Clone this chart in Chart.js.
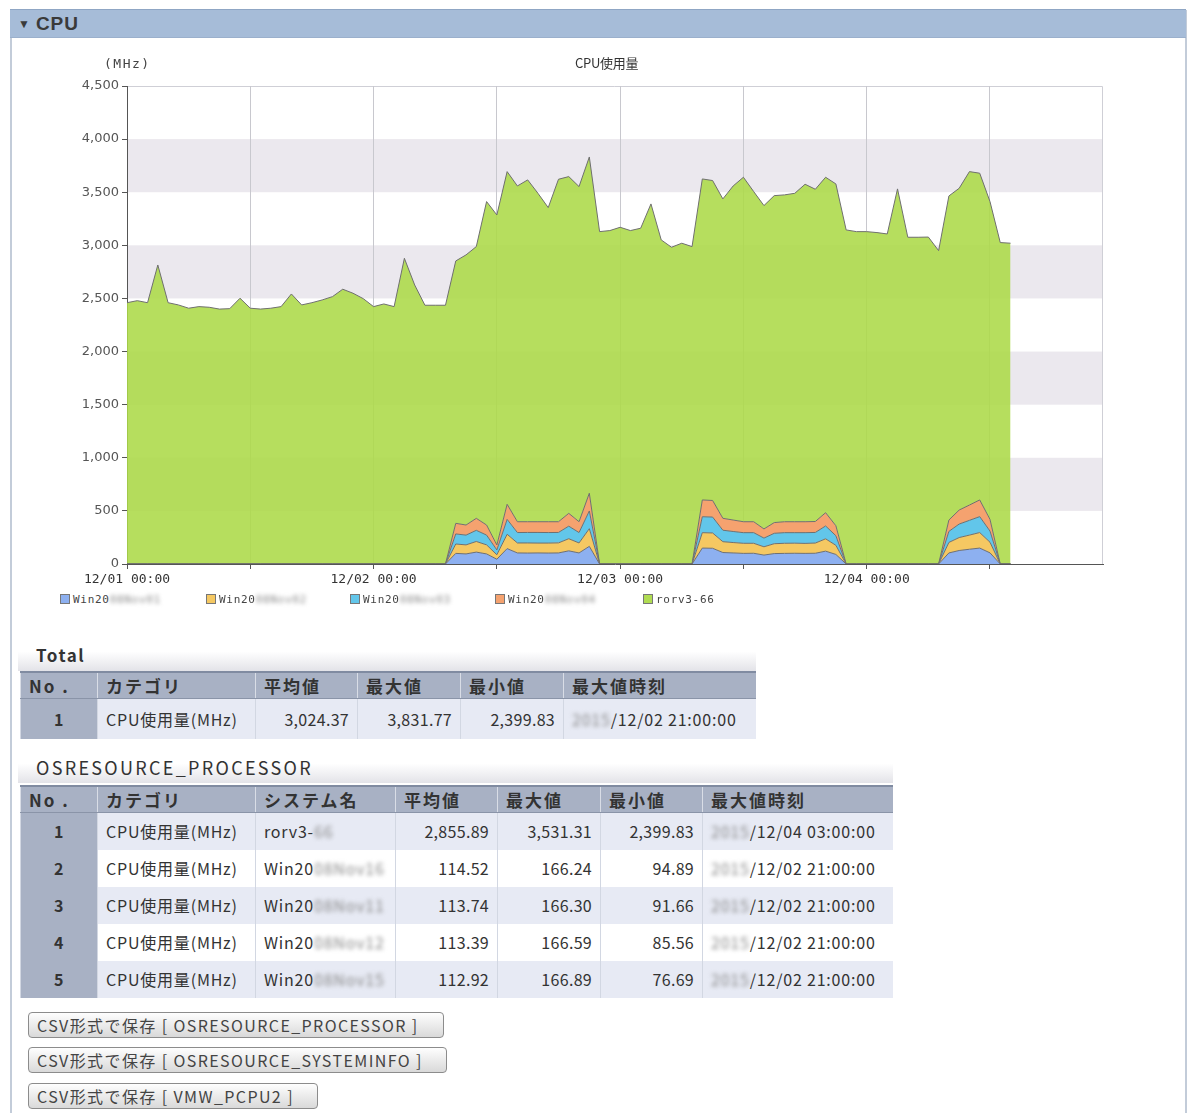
<!DOCTYPE html>
<html lang="ja">
<head>
<meta charset="utf-8">
<script src="https://cdn.jsdelivr.net/npm/chart.js@4.4.1/dist/chart.umd.min.js"></script>
<style>
  body { margin: 0; width: 1192px; height: 1113px; overflow: hidden; position: relative; background: #fff;
         font-family: "Noto Sans CJK JP", "Noto Sans", sans-serif; color: #333; }
  .frame { position: absolute; left: 10px; top: 10px; width: 1173px; height: 1110px;
           border-left: 2px solid #c3ccd9; border-right: 2px solid #c3ccd9; }
  .head { position: absolute; left: 10px; top: 9px; width: 1168px; height: 27px; padding-left: 8px;
          background: #a6bcd8; border-top: 1px solid #8fa6c4; border-bottom: 1px solid #9bb0cc;
          font: bold 19px "Liberation Sans", sans-serif; line-height: 27px; color: #3a3a3a; letter-spacing: 1px; }
  .head span { font-size: 12px; vertical-align: 2px; margin-right: 5px; }
  #cpuChart { position: absolute; left: 0; top: 0; }
  .ctitle { position: absolute; left: 575px; top: 53px; font-size: 13px; color: #333; letter-spacing: -0.3px; }
  .unit { position: absolute; left: 104px; top: 56px; font: 13px "DejaVu Sans Mono", monospace; color: #444; letter-spacing: 1.5px; }
  .legend { position: absolute; left: 60px; top: 593px; font: 11px "DejaVu Sans Mono", monospace; color: #444; letter-spacing: 0.7px; }
  .legend div { position: absolute; top: 0; white-space: nowrap; }
  .legend i { display: inline-block; width: 8px; height: 8px; border: 1px solid #777; margin-right: 3px; vertical-align: -1px; }
  .blur { filter: blur(2.2px); color: #8a8a8a; }
  .cap { position: absolute; left: 18px; height: 30px; padding-left: 18px; font-size: 17px; font-weight: bold; line-height: 28px;
         letter-spacing: 1.5px; background: linear-gradient(to bottom, #fff 35%, #e3e3e8); }
  .tbl { position: absolute; left: 20px; border-collapse: collapse; table-layout: fixed; font-size: 16px; color: #333; letter-spacing: 0.8px; }
  .tbl th { background: #a8b1c4; height: 25px; text-align: left; padding: 0 8px; font-weight: bold; font-size: 17px; letter-spacing: 2px;
            border-left: 1px solid #d9dde6; border-top: 2px solid #808ba1; border-bottom: 1px solid #8a94a8; }
  .tbl td { padding: 0 8px; border-left: 1px solid #d2d7e2; white-space: nowrap; overflow: hidden; }
  .tbl td.no { background: #a8b1c4; text-align: center; font-weight: bold; }
  .tbl td.num { text-align: right; letter-spacing: 0.3px; }
  .tbl tr.a td { background: #e7eaf4; }
  .tbl tr.b td { background: #fff; }
  .tbl tr td.no { background: #a8b1c4; }
  .btn { position: absolute; left: 28px; height: 24px; padding: 0 8px; border: 1px solid #8c8c8c; border-radius: 4px;
         background: linear-gradient(#fefefe, #d9d9d9); font-size: 16px; line-height: 24px; color: #444; white-space: nowrap;
         letter-spacing: 1.4px; }
</style>
</head>
<body>
<div class="frame"></div>
<div class="head"><span>▼</span>CPU</div>

<canvas id="cpuChart" width="1192" height="590"></canvas>
<div class="ctitle">CPU使用量</div>
<div class="unit">(MHz)</div>
<div class="legend" id="legend"></div>

<div class="cap" style="top:641px;width:720px">Total</div>
<table class="tbl" style="top:671px;width:735px">
  <colgroup><col style="width:77px"><col style="width:158px"><col style="width:102px"><col style="width:103px"><col style="width:103px"><col style="width:192px"></colgroup>
  <tr><th>No .</th><th>カテゴリ</th><th>平均値</th><th>最大値</th><th>最小値</th><th>最大値時刻</th></tr>
  <tr class="a" style="height:40px"><td class="no">1</td><td>CPU使用量(MHz)</td><td class="num">3,024.37</td><td class="num">3,831.77</td><td class="num">2,399.83</td><td><span class="blur">2015</span>/12/02 21:00:00</td></tr>
</table>

<div class="cap" style="top:753px;width:857px;font-weight:normal;font-size:18px;letter-spacing:2.3px">OSRESOURCE_PROCESSOR</div>
<table class="tbl" style="top:785px;width:872px">
  <colgroup><col style="width:77px"><col style="width:158px"><col style="width:140px"><col style="width:102px"><col style="width:103px"><col style="width:102px"><col style="width:190px"></colgroup>
  <tr><th>No .</th><th>カテゴリ</th><th>システム名</th><th>平均値</th><th>最大値</th><th>最小値</th><th>最大値時刻</th></tr>
  <tr class="a" style="height:37px"><td class="no">1</td><td>CPU使用量(MHz)</td><td>rorv3-<span class="blur">66</span></td><td class="num">2,855.89</td><td class="num">3,531.31</td><td class="num">2,399.83</td><td><span class="blur">2015</span>/12/04 03:00:00</td></tr>
  <tr class="b" style="height:37px"><td class="no">2</td><td>CPU使用量(MHz)</td><td>Win20<span class="blur">08Nov16</span></td><td class="num">114.52</td><td class="num">166.24</td><td class="num">94.89</td><td><span class="blur">2015</span>/12/02 21:00:00</td></tr>
  <tr class="a" style="height:37px"><td class="no">3</td><td>CPU使用量(MHz)</td><td>Win20<span class="blur">08Nov11</span></td><td class="num">113.74</td><td class="num">166.30</td><td class="num">91.66</td><td><span class="blur">2015</span>/12/02 21:00:00</td></tr>
  <tr class="b" style="height:37px"><td class="no">4</td><td>CPU使用量(MHz)</td><td>Win20<span class="blur">08Nov12</span></td><td class="num">113.39</td><td class="num">166.59</td><td class="num">85.56</td><td><span class="blur">2015</span>/12/02 21:00:00</td></tr>
  <tr class="a" style="height:37px"><td class="no">5</td><td>CPU使用量(MHz)</td><td>Win20<span class="blur">08Nov15</span></td><td class="num">112.92</td><td class="num">166.89</td><td class="num">76.69</td><td><span class="blur">2015</span>/12/02 21:00:00</td></tr>
</table>

<div class="btn" style="top:1012px;width:398px">CSV形式で保存 [ OSRESOURCE_PROCESSOR ]</div>
<div class="btn" style="top:1047px;width:401px">CSV形式で保存 [ OSRESOURCE_SYSTEMINFO ]</div>
<div class="btn" style="top:1083px;width:272px">CSV形式で保存 [ VMW_PCPU2 ]</div>

<script>
// hourly samples from 12/01 00:00, stacked bottom to top
const tickLabels = ["12/01 00:00", "12/02 00:00", "12/03 00:00", "12/04 00:00"];
const seriesNames = ["Win20", "Win20", "Win20", "Win20", "rorv3-66"];
const seriesColors = ["#8db0f0", "#f5c862", "#62c6ea", "#f5a26f", "#b0dc52"];

const win1 = [
  0, 0, 0, 0, 0, 0, 0, 0, 0, 0,
  0, 0, 0, 0, 0, 0, 0, 0, 0, 0,
  0, 0, 0, 0, 0, 0, 0, 0, 0, 0,
  0, 0, 100, 95, 112, 95, 45, 145, 104, 103,
  104, 103, 104, 124, 104, 166.24, 0, 0, 0, 0,
  0, 0, 0, 0, 0, 0, 150, 148, 108, 104,
  100, 101, 84, 98, 100, 101, 100, 101, 121, 90,
  0, 0, 0, 0, 0, 0, 0, 0, 0, 0,
  104, 127, 139, 150, 105, 0, 0
];
const win2 = [
  0, 0, 0, 0, 0, 0, 0, 0, 0, 0,
  0, 0, 0, 0, 0, 0, 0, 0, 0, 0,
  0, 0, 0, 0, 0, 0, 0, 0, 0, 0,
  0, 0, 88, 85, 100, 85, 42, 135, 94, 95,
  93, 94, 95, 114, 94, 166.30, 0, 0, 0, 0,
  0, 0, 0, 0, 0, 0, 145, 144, 102, 98,
  95, 94, 78, 93, 95, 95, 94, 96, 116, 86,
  0, 0, 0, 0, 0, 0, 0, 0, 0, 0,
  99, 122, 133, 146, 100, 0, 0
];
const win3 = [
  0, 0, 0, 0, 0, 0, 0, 0, 0, 0,
  0, 0, 0, 0, 0, 0, 0, 0, 0, 0,
  0, 0, 0, 0, 0, 0, 0, 0, 0, 0,
  0, 0, 95, 92, 105, 92, 45, 140, 98, 99,
  100, 99, 98, 118, 98, 166.59, 0, 0, 0, 0,
  0, 0, 0, 0, 0, 0, 150, 150, 108, 104,
  100, 100, 82, 98, 100, 99, 101, 100, 121, 90,
  0, 0, 0, 0, 0, 0, 0, 0, 0, 0,
  104, 127, 139, 150, 105, 0, 0
];
const win4 = [
  0, 0, 0, 0, 0, 0, 0, 0, 0, 0,
  0, 0, 0, 0, 0, 0, 0, 0, 0, 0,
  0, 0, 0, 0, 0, 0, 0, 0, 0, 0,
  0, 0, 100, 95, 113, 95, 47, 142, 102, 101,
  101, 102, 101, 121, 102, 166.89, 0, 0, 0, 0,
  0, 0, 0, 0, 0, 0, 158, 156, 112, 108,
  103, 103, 86, 101, 103, 103, 103, 103, 125, 94,
  0, 0, 0, 0, 0, 0, 0, 0, 0, 0,
  107, 132, 144, 157, 110, 0, 0
];
const rorv3 = [
  2460, 2479, 2460, 2815, 2460, 2439, 2408, 2423, 2417, 2399.83,
  2404, 2502, 2408, 2400, 2408, 2423, 2542, 2439, 2460, 2486,
  2517, 2587, 2549, 2498, 2423, 2448, 2423, 2878, 2627, 2436,
  2436, 2436, 2470, 2543, 2558, 3045, 3107, 3132, 3161, 3218,
  3092, 2957, 3224, 3170, 3155, 3165.75, 3129, 3139, 3170, 3139,
  3161, 3390, 3051, 2982, 3020, 2988, 3022, 3012, 3007, 3145,
  3243, 3108, 3044, 3078, 3077, 3092, 3177, 3128, 3158, 3218,
  3145, 3129, 3129, 3120, 3107, 3531.31, 3076, 3076, 3078, 2950,
  3051, 3029, 3139, 3076, 2992, 3026, 3020
];
const hours = rorv3.map((v, i) => i);
const bandRanges = [[500, 1000], [1500, 2000], [2500, 3000], [3500, 4000]];

// light stripes and plot frame behind the areas
const bands = {
  id: "bands",
  beforeDraw(chart) {
    const { ctx, chartArea: a, scales: { y } } = chart;
    ctx.save();
    ctx.fillStyle = "#ebe8ee";
    bandRanges.forEach(([lo, hi]) => {
      const top = y.getPixelForValue(hi), bot = y.getPixelForValue(lo);
      ctx.fillRect(a.left, top, a.right - a.left, bot - top);
    });
    ctx.strokeStyle = "#cfcfd6";
    ctx.lineWidth = 1;
    ctx.beginPath();
    ctx.moveTo(a.left, a.top + 0.5);
    ctx.lineTo(a.right - 0.5, a.top + 0.5);
    ctx.lineTo(a.right - 0.5, a.bottom);
    ctx.stroke();
    ctx.restore();
  }
};

const allSeries = [win1, win2, win3, win4, rorv3];
const datasets = allSeries.map((d, i) => ({
  label: seriesNames[i],
  data: d,
  fill: i === 0 ? "origin" : "-1",
  backgroundColor: i === 4 ? "rgba(172,218,72,0.88)" : seriesColors[i],
  borderColor: "#6f6f6f",
  borderWidth: 1,
  pointRadius: 0,
  tension: 0
}));

new Chart(document.getElementById("cpuChart"), {
  type: "line",
  data: { labels: hours, datasets },
  options: {
    responsive: false,
    animation: false,
    devicePixelRatio: 1,
    layout: { padding: { top: 86, right: 89, left: 0, bottom: 0 } },
    plugins: { legend: { display: false }, tooltip: { enabled: false } },
    scales: {
      x: {
        type: "linear", min: 0, max: 95,
        afterFit: s => { s.height = 26; },
        grid: { color: "#c8c8ce", tickColor: "#555", tickLength: 5 },
        border: { color: "#555" },
        ticks: {
          stepSize: 12, includeBounds: false, autoSkip: false, maxRotation: 0, padding: 3,
          color: "#333", font: { family: "DejaVu Sans Mono", size: 13 },
          callback: v => (v % 24 === 0 ? tickLabels[v / 24] : "")
        }
      },
      y: {
        stacked: true, min: 0, max: 4500,
        afterFit: s => { s.width = 127; },
        grid: { drawOnChartArea: false, tickColor: "#555", tickLength: 5 },
        border: { color: "#555" },
        ticks: {
          stepSize: 500, padding: 3, color: "#555",
          font: { family: "DejaVu Sans", size: 13 },
          callback: v => v.toLocaleString("en-US")
        }
      }
    }
  },
  plugins: [bands]
});

// legend below the plot
const legendX = [0, 146, 290, 435, 583];
const legendBlur = ["08Nov01", "08Nov02", "08Nov03", "08Nov04", ""];
document.getElementById("legend").innerHTML = seriesNames.map((n, i) =>
  `<div style="left:${legendX[i]}px"><i style="background:${seriesColors[i]}"></i>${n}` +
  (legendBlur[i] ? `<span class="blur">${legendBlur[i]}</span>` : "") + `</div>`
).join("");
</script>
</body>
</html>
